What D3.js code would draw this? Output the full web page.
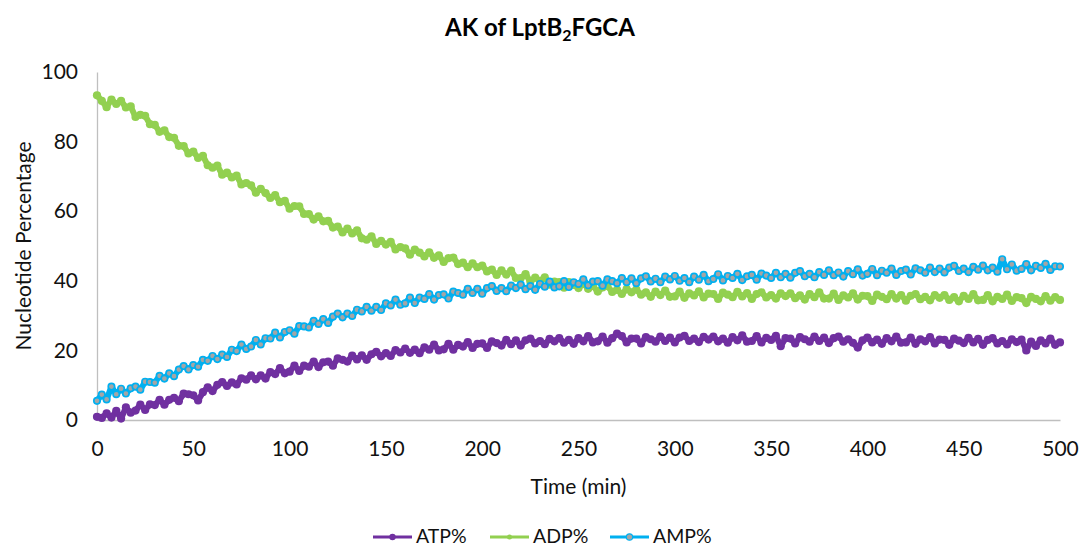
<!DOCTYPE html>
<html>
<head>
<meta charset="utf-8">
<script src="https://cdn.jsdelivr.net/npm/d3@7"></script>
<style>
  html, body { margin: 0; padding: 0; background: #fff; }
  svg { display: block; font-family: Lato, "Open Sans", sans-serif; }
</style>
</head>
<body>
<svg id="chart" width="1080" height="545"></svg>
<script>
// Sampling grid: one reading every 2.5 min from 0 to 500 min
const timeStep = 2.5;
const times = d3.range(0, 500 + timeStep / 2, timeStep);

// ATP % readings (8 per row = 20 min)
const atp = [
  0.9, 0.6, 1.9, 0.7, 2.6, 0.4, 3.6, 2.1,
  2.7, 4.4, 2.9, 4.5, 4.3, 5.8, 4.4, 5.8,
  6.4, 5.4, 7.6, 7.4, 7.1, 5.6, 8.0, 9.4,
  8.3, 10.1, 10.9, 9.8, 10.8, 10.2, 12.0, 11.6,
  12.8, 11.7, 12.8, 11.9, 13.8, 13.2, 14.9, 13.4,
  13.9, 15.6, 14.1, 15.6, 15.3, 16.8, 15.2, 16.6,
  16.8, 15.6, 17.7, 17.3, 16.8, 18.5, 17.4, 18.6,
  17.3, 18.9, 19.6, 18.3, 19.2, 18.4, 20.1, 19.4,
  20.5, 19.3, 20.2, 19.2, 20.9, 20.2, 21.7, 20.0,
  20.3, 21.9, 20.2, 21.6, 21.1, 22.4, 20.7, 21.9,
  22.0, 20.7, 22.6, 22.1, 21.4, 23.0, 21.8, 22.9,
  21.4, 22.9, 23.4, 22.0, 22.7, 21.8, 23.3, 22.6,
  23.5, 22.2, 23.0, 21.9, 23.5, 22.6, 24.1, 22.3,
  22.6, 24.0, 22.2, 23.5, 24.8, 24.1, 22.3, 23.4,
  23.4, 22.0, 23.8, 23.2, 22.5, 24.0, 22.7, 23.7,
  22.3, 23.7, 24.2, 22.7, 23.4, 22.4, 23.9, 23.1,
  24.0, 22.6, 23.4, 22.2, 23.8, 22.9, 24.3, 22.5,
  22.7, 24.1, 22.3, 23.6, 23.0, 24.2, 21.2, 23.5,
  23.4, 22.0, 23.8, 23.2, 22.5, 24.0, 22.7, 23.7,
  22.1, 23.5, 24.0, 22.5, 23.2, 22.2, 20.8, 22.9,
  23.7, 22.3, 23.1, 21.9, 23.5, 22.6, 24.0, 22.2,
  22.3, 23.7, 21.9, 23.2, 22.6, 23.8, 22.0, 23.1,
  23.0, 21.6, 23.4, 22.8, 22.1, 23.6, 22.3, 23.3,
  21.6, 23.0, 23.5, 22.0, 22.7, 21.7, 23.2, 22.4,
  23.1, 20.0, 22.5, 21.3, 22.9, 22.0, 23.4, 21.6,
  22.3
];

// ADP % readings
const adp = [
  93.3, 91.7, 89.9, 92.1, 90.8, 91.7, 89.8, 90.1,
  87.1, 87.7, 87.4, 85.0, 84.8, 82.8, 83.2, 81.3,
  81.1, 78.8, 78.7, 76.6, 77.1, 75.3, 75.9, 73.2,
  72.5, 73.1, 70.5, 71.1, 69.7, 70.2, 67.7, 68.1,
  67.4, 65.3, 66.4, 65.2, 63.8, 64.6, 62.6, 63.0,
  60.7, 61.5, 61.4, 59.2, 59.2, 57.6, 58.5, 57.1,
  57.2, 55.3, 55.6, 53.9, 55.0, 53.6, 54.5, 52.2,
  51.8, 52.8, 50.6, 51.5, 50.4, 51.2, 49.0, 49.7,
  49.3, 47.5, 49.0, 48.1, 47.0, 48.2, 46.6, 47.3,
  45.4, 46.5, 46.7, 44.8, 45.2, 43.9, 45.0, 43.9,
  44.4, 42.7, 43.2, 41.7, 43.0, 41.8, 42.9, 40.8,
  40.8, 41.9, 39.8, 40.9, 40.0, 41.0, 38.9, 39.8,
  39.6, 38.0, 39.6, 38.8, 37.9, 39.2, 37.7, 38.5,
  36.9, 38.1, 38.5, 36.8, 37.4, 36.2, 37.6, 36.7,
  37.5, 36.0, 36.7, 35.4, 36.9, 35.9, 37.2, 35.4,
  35.5, 36.9, 35.1, 36.4, 35.8, 37.0, 35.2, 36.3,
  36.2, 34.8, 36.6, 36.0, 35.3, 36.8, 35.5, 36.5,
  34.8, 36.2, 36.7, 35.2, 35.9, 34.9, 36.4, 35.6,
  36.4, 35.0, 35.8, 34.6, 36.2, 35.3, 36.7, 34.9,
  34.9, 36.3, 34.5, 35.8, 35.2, 36.4, 34.6, 35.7,
  35.6, 34.2, 36.0, 35.4, 34.7, 36.2, 34.9, 35.9,
  34.3, 35.7, 36.2, 34.7, 35.4, 34.4, 35.9, 35.1,
  35.9, 34.5, 35.3, 34.1, 35.7, 34.8, 36.2, 34.4,
  34.5, 35.9, 34.1, 35.4, 34.8, 36.0, 34.2, 35.3,
  35.0, 33.6, 35.4, 34.8, 34.1, 35.6, 34.3, 35.3,
  34.5
];

// AMP % readings
const amp = [
  5.5, 7.3, 5.9, 9.6, 7.4, 9.0, 7.6, 9.1,
  9.6, 8.7, 11.0, 10.9, 10.7, 12.7, 11.9, 13.4,
  12.6, 14.5, 15.5, 14.5, 15.8, 15.3, 17.3, 17.0,
  18.4, 17.5, 18.8, 18.1, 20.2, 19.8, 21.7, 20.4,
  21.1, 23.0, 21.7, 23.5, 23.4, 25.1, 23.7, 25.3,
  25.8, 24.8, 27.0, 26.9, 26.6, 28.5, 27.6, 29.0,
  27.9, 29.7, 30.6, 29.5, 30.6, 29.9, 31.7, 31.2,
  32.5, 31.4, 32.5, 31.6, 33.5, 32.9, 34.6, 33.1,
  33.5, 35.2, 33.6, 35.2, 34.8, 36.2, 34.6, 35.9,
  36.1, 34.9, 36.9, 36.5, 36.0, 37.7, 36.5, 37.7,
  36.3, 37.9, 38.5, 37.1, 37.9, 37.0, 38.6, 37.9,
  38.9, 37.6, 38.5, 37.4, 39.1, 38.3, 39.8, 38.1,
  38.4, 39.9, 38.2, 39.6, 39.1, 40.4, 38.7, 39.8,
  39.9, 38.6, 40.4, 39.9, 39.3, 40.8, 39.6, 40.7,
  39.3, 40.7, 41.3, 39.8, 40.6, 39.6, 41.2, 40.4,
  41.4, 40.0, 40.8, 39.6, 41.2, 40.3, 41.7, 39.9,
  40.5, 41.9, 40.1, 41.4, 40.8, 42.0, 40.2, 41.3,
  41.7, 40.3, 42.1, 41.5, 40.8, 42.3, 41.0, 42.0,
  40.9, 42.3, 42.8, 41.3, 42.0, 41.0, 42.5, 41.7,
  43.0, 41.6, 42.4, 41.2, 42.8, 41.9, 43.3, 41.5,
  42.0, 43.4, 41.6, 42.9, 42.3, 43.5, 41.7, 42.8,
  43.2, 41.8, 43.6, 43.0, 42.3, 43.8, 42.5, 43.5,
  42.4, 43.8, 44.3, 42.8, 43.5, 42.5, 44.0, 43.2,
  44.4, 43.0, 43.8, 42.6, 46.2, 43.3, 44.7, 42.9,
  43.4, 44.8, 43.0, 44.3, 43.7, 44.9, 43.1, 44.2,
  44.1
];

const xTicks = [0, 50, 100, 150, 200, 250, 300, 350, 400, 450, 500];
const yTicks = [0, 20, 40, 60, 80, 100];

const seriesNames = ["ATP%", "ADP%", "AMP%"];
const seriesValues = [atp, adp, amp];

// Styling per series: line colour, marker fill, marker outline
const styles = [
  { line: "#7030A0", fill: "#7030A0", stroke: "#7030A0", r: 4.1, sw: 0 },
  { line: "#92D050", fill: "#92D050", stroke: "#92D050", r: 4.1, sw: 0 },
  { line: "#00B0F0", fill: "#A5A5A5", stroke: "#00B0F0", r: 3.2, sw: 1.7 }
];

const svg = d3.select("#chart");
const textColor = "#111";

const x = d3.scaleLinear().domain([0, 500]).range([97, 1060]);
const y = d3.scaleLinear().domain([0, 100]).range([420, 72]);

// Title with subscript
const title = svg.append("text")
  .attr("x", 540).attr("y", 36)
  .attr("text-anchor", "middle")
  .attr("font-size", 24).attr("font-weight", "bold")
  .attr("fill", "#000");
title.append("tspan").text("AK of LptB");
title.append("tspan").attr("font-size", 16).attr("dy", 5).text("2");
title.append("tspan").attr("dy", -5).text("FGCA");

// Axes
const xAxis = d3.axisBottom(x).tickValues(xTicks).tickSize(0).tickPadding(21).tickFormat(d3.format("d"));
const yAxis = d3.axisLeft(y).tickValues(yTicks).tickSize(0).tickPadding(19).tickFormat(d3.format("d"));

const gx = svg.append("g").attr("transform", `translate(0,${y(0)})`).call(xAxis);
const gy = svg.append("g").attr("transform", `translate(${x(0)},0)`).call(yAxis);

[gx, gy].forEach(g => {
  g.select(".domain").attr("stroke", "#BFBFBF").attr("stroke-width", 1.3);
  g.selectAll(".tick text")
    .attr("font-family", "Lato, 'Open Sans', sans-serif")
    .attr("font-size", 21).attr("fill", textColor);
});

// Axis titles
svg.append("text")
  .attr("x", (x(0) + x(500)) / 2).attr("y", 494)
  .attr("text-anchor", "middle").attr("font-size", 21).attr("fill", textColor)
  .text("Time (min)");

svg.append("text")
  .attr("transform", `translate(31,${(y(0) + y(100)) / 2}) rotate(-90)`)
  .attr("text-anchor", "middle").attr("font-size", 21).attr("fill", textColor)
  .text("Nucleotide Percentage");

// Series: line with circle markers, later series drawn on top
const line = d3.line()
  .x((d, i) => x(times[i]))
  .y(d => y(d));

seriesValues.forEach((vals, k) => {
  const st = styles[k];
  const g = svg.append("g").attr("class", "series");
  g.append("path")
    .datum(vals)
    .attr("d", line)
    .attr("fill", "none")
    .attr("stroke", st.line)
    .attr("stroke-width", 6)
    .attr("stroke-linejoin", "round")
    .attr("stroke-linecap", "round");
  g.selectAll("circle")
    .data(vals)
    .join("circle")
    .attr("cx", (d, i) => x(times[i]))
    .attr("cy", d => y(d))
    .attr("r", st.r)
    .attr("fill", st.fill)
    .attr("stroke", st.stroke)
    .attr("stroke-width", st.sw);
});

// Legend
const legendX = [373, 490, 610];
const legend = svg.append("g");
seriesNames.forEach((name, k) => {
  const st = styles[k];
  const lx = legendX[k];
  legend.append("line")
    .attr("x1", lx).attr("x2", lx + 39)
    .attr("y1", 537).attr("y2", 537)
    .attr("stroke", st.line).attr("stroke-width", 3);
  legend.append("circle")
    .attr("cx", lx + 19.5).attr("cy", 537)
    .attr("r", k === 1 ? 2.5 : 3.2)
    .attr("fill", st.fill)
    .attr("stroke", st.stroke)
    .attr("stroke-width", k === 2 ? 1.2 : 0);
  legend.append("text")
    .attr("x", lx + 43).attr("y", 542.5)
    .attr("font-size", 19.5).attr("fill", textColor)
    .text(name);
});
</script>
</body>
</html>
